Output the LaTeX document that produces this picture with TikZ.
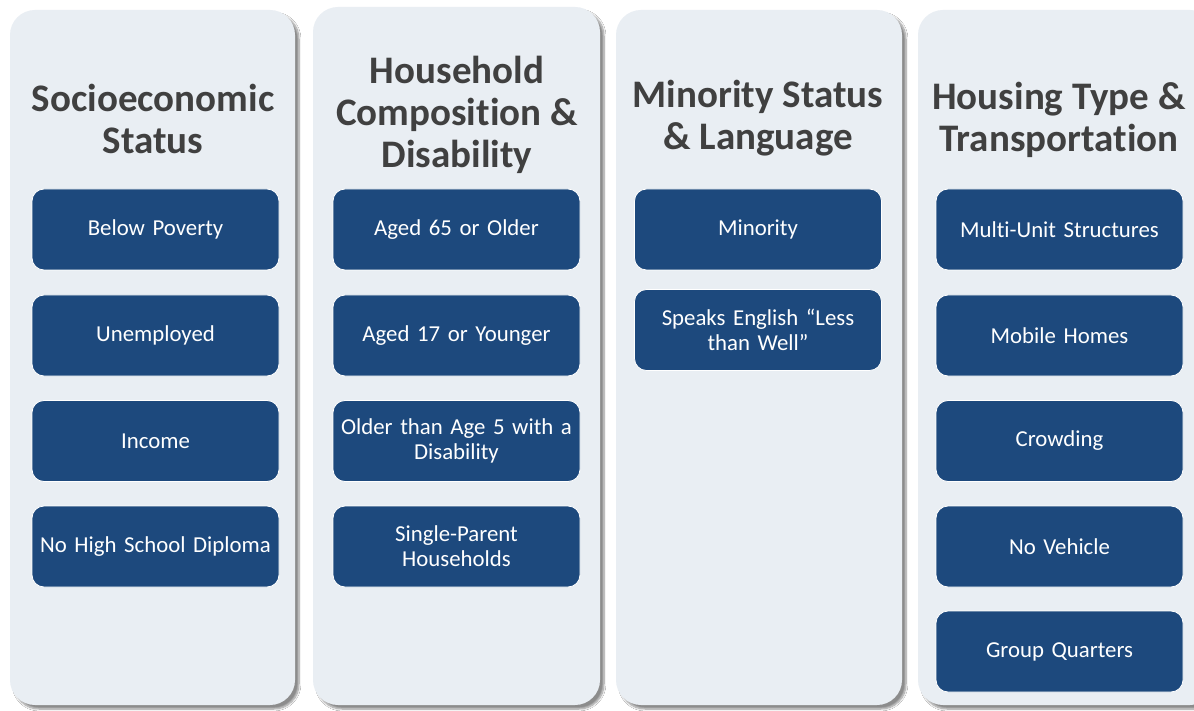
\documentclass[tikz,border=0pt]{standalone}
\usepackage{fontspec}
\setmainfont{Carlito}[Ligatures=NoCommon]
\usetikzlibrary{shadows.blur}
\definecolor{panelfill}{HTML}{E9EEF3}
\definecolor{boxblue}{HTML}{1D497D}
\definecolor{titlegray}{HTML}{404040}
\tikzset{
  panel/.style={fill=panelfill, draw=none, rounded corners=25pt,
    blur shadow={shadow xshift=4pt, shadow yshift=-4pt, shadow blur steps=8, shadow opacity=45}},
  title/.style={text=titlegray, align=center, font=\fontsize{39}{42}\selectfont\bfseries},
  item/.style={fill=boxblue, draw=white, line width=0.8pt, rounded corners=12pt,
    minimum width=247pt, minimum height=81pt, text=white, align=center,
    text width=240pt, inner sep=0pt, font=\fontsize{22.8}{25}\selectfont}
}
\begin{document}
\begin{tikzpicture}[x=1pt,y=-1pt]
\useasboundingbox (0,0) rectangle (1194,711);
\fill[white] (0,0) rectangle (1194,711);
% panels
\path[panel] (10,10) rectangle (295,705);
\path[panel] (313,7) rectangle (600,705);
\path[panel] (616,10) rectangle (902,705);
\path[panel] (918,10) rectangle (1215,705);
% titles
\node[title] (t1) at (153,119) {Socioeconomic\\Status};
\node[title] (t2) at (457,115) {Household\\Composition \&\\Disability};
\node[title] (t3) at (758,118) {Minority Status\\\& Language};
\node[title] (t4) at (1059,119.5) {Housing Type \&\\Transportation};
% column 1
\node[item] (a1) at (155.5,229.5) {Below Poverty};
\node[item] (a2) at (155.5,335.5) {Unemployed};
\node[item] (a3) at (155.5,441) {Income};
\node[item] (a4) at (155.5,546.5) {No High School Diploma};
% column 2
\node[item] (b1) at (456.5,229.5) {Aged 65 or Older};
\node[item] (b2) at (456.5,335.5) {Aged 17 or Younger};
\node[item] (b3) at (456.5,441) {Older than Age 5 with a\\Disability};
\node[item] (b4) at (456.5,546.5) {Single-Parent\\Households};
% column 3
\node[item] (c1) at (758,229.5) {Minority};
\node[item] (c2) at (758,330) {Speaks English “Less\\than Well”};
% column 4
\node[item] (d1) at (1059.5,229.5) {Multi-Unit Structures};
\node[item] (d2) at (1059.5,335.5) {Mobile Homes};
\node[item] (d3) at (1059.5,441) {Crowding};
\node[item] (d4) at (1059.5,546.5) {No Vehicle};
\node[item] (d5) at (1059.5,651.5) {Group Quarters};
\end{tikzpicture}
\end{document}
